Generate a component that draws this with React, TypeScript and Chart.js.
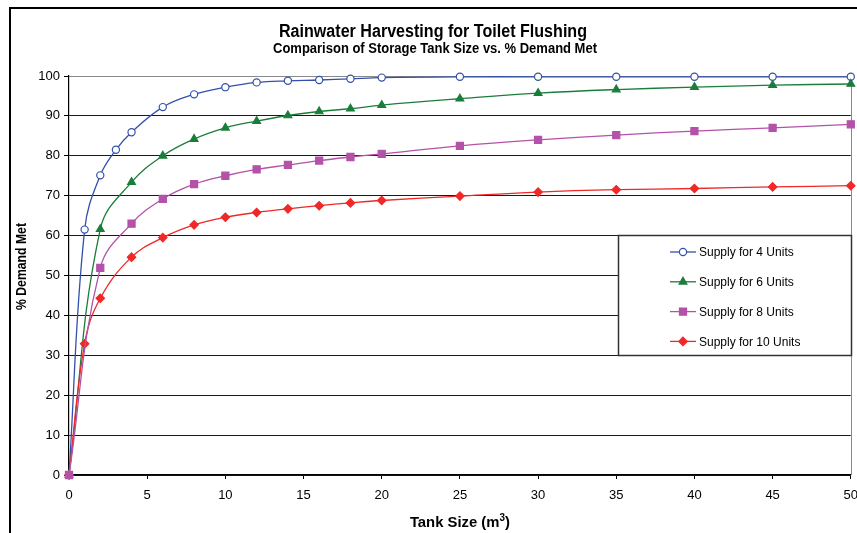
import React, { useEffect, useRef } from 'react';
import { Chart, registerables } from 'chart.js';

Chart.register(...registerables);

const FONT = "'Liberation Sans', Arial, Helvetica, sans-serif";

const TITLE = 'Rainwater Harvesting for Toilet Flushing';
const SUBTITLE = 'Comparison of Storage Tank Size vs. % Demand Met';
const X_TITLE_MAIN = 'Tank Size (m';
const X_TITLE_SUP = '3';
const X_TITLE_END = ')';
const Y_TITLE = '% Demand Met';

const X_TICK_STEP = 5;
const Y_TICK_STEP = 10;

const X_4_UNITS = [0, 1, 2, 3, 4, 6, 8, 10, 12, 14, 16, 18, 20, 25, 30, 35, 40, 45, 50];
const Y_4_UNITS = [0, 61.5, 75.1, 81.5, 85.9, 92.2, 95.4, 97.2, 98.4, 98.8, 99.0, 99.3, 99.6, 99.8, 99.8, 99.8, 99.8, 99.8, 99.8];

const X_6_UNITS = [0, 2, 4, 6, 8, 10, 12, 14, 16, 18, 20, 25, 30, 35, 40, 45, 50];
const Y_6_UNITS = [0, 61.6, 73.4, 80.0, 84.2, 87.0, 88.7, 90.1, 91.1, 91.8, 92.7, 94.3, 95.7, 96.6, 97.2, 97.7, 98.0];

const X_8_UNITS = [0, 2, 4, 6, 8, 10, 12, 14, 16, 18, 20, 25, 30, 35, 40, 45, 50];
const Y_8_UNITS = [0, 51.9, 63.0, 69.2, 72.9, 75.0, 76.6, 77.7, 78.8, 79.7, 80.5, 82.5, 84.0, 85.2, 86.2, 87.0, 87.9];

const X_10_UNITS = [0, 1, 2, 4, 6, 8, 10, 12, 14, 16, 18, 20, 25, 30, 35, 40, 45, 50];
const Y_10_UNITS = [0, 32.9, 44.3, 54.6, 59.5, 62.7, 64.6, 65.8, 66.7, 67.5, 68.2, 68.8, 69.9, 70.9, 71.5, 71.8, 72.2, 72.5];

const SERIES_NAMES = ['Supply for 4 Units', 'Supply for 6 Units', 'Supply for 8 Units', 'Supply for 10 Units'];
const SERIES_X = [X_4_UNITS, X_6_UNITS, X_8_UNITS, X_10_UNITS];
const SERIES_Y = [Y_4_UNITS, Y_6_UNITS, Y_8_UNITS, Y_10_UNITS];
const SERIES_COLORS = ['#3350aa', '#1b7d3b', '#b352a8', '#f02828'];
const SERIES_MARKERS = ['circle', 'triangle', 'rect', 'rectRot'];
const SERIES_MARKER_FILL = ['#ffffff', '#1b7d3b', '#b352a8', '#f02828'];
const SERIES_MARKER_SIZE = [3.6, 4.5, 5, 4.2];
const SERIES_ORDER = [3, 2, 0, 1];

function drawMarker(ctx: CanvasRenderingContext2D, style: string, x: number, y: number, r: number) {
  ctx.beginPath();
  if (style === 'circle') {
    ctx.arc(x, y, r, 0, Math.PI * 2);
  } else if (style === 'triangle') {
    const rad = -Math.PI / 2;
    ctx.moveTo(x + Math.cos(rad) * r, y + Math.sin(rad) * r);
    ctx.lineTo(x + Math.cos(rad + (2 * Math.PI) / 3) * r, y + Math.sin(rad + (2 * Math.PI) / 3) * r);
    ctx.lineTo(x + Math.cos(rad + (4 * Math.PI) / 3) * r, y + Math.sin(rad + (4 * Math.PI) / 3) * r);
    ctx.closePath();
  } else if (style === 'rect') {
    const s = Math.SQRT1_2 * r;
    ctx.rect(x - s, y - s, 2 * s, 2 * s);
  } else {
    ctx.moveTo(x - r, y);
    ctx.lineTo(x, y - r);
    ctx.lineTo(x + r, y);
    ctx.lineTo(x, y + r);
    ctx.closePath();
  }
  ctx.fill();
  ctx.stroke();
}

// draws centred text, condensed horizontally to a given width
function condensedText(
  ctx: CanvasRenderingContext2D,
  text: string,
  cx: number,
  baseline: number,
  font: string,
  width: number,
  rotate = false
) {
  ctx.save();
  ctx.font = font;
  const w = ctx.measureText(text).width;
  const k = Math.min(1, width / w);
  ctx.translate(cx, baseline);
  if (rotate) ctx.rotate(-Math.PI / 2);
  ctx.scale(k, 1);
  ctx.textAlign = 'center';
  ctx.textBaseline = 'alphabetic';
  ctx.fillStyle = '#000';
  ctx.fillText(text, 0, 0);
  ctx.restore();
}

const decorPlugin = {
  id: 'decor',
  beforeDatasetsDraw(chart: any) {
    const { ctx, chartArea } = chart;
    ctx.save();
    ctx.strokeStyle = '#8a8a8a';
    ctx.lineWidth = 1;
    ctx.beginPath();
    ctx.moveTo(Math.round(chartArea.right) + 0.5, chartArea.top);
    ctx.lineTo(Math.round(chartArea.right) + 0.5, chartArea.bottom);
    ctx.stroke();
    ctx.restore();
  },
  afterDraw(chart: any) {
    const { ctx, chartArea } = chart;
    ctx.save();
    // outer frame
    ctx.strokeStyle = '#000';
    ctx.lineWidth = 2;
    ctx.strokeRect(10, 8, 900, 600);

    // titles
    condensedText(ctx, TITLE, 433, 37, `bold 18px ${FONT}`, 308);
    condensedText(ctx, SUBTITLE, 435, 53, `bold 14px ${FONT}`, 324);

    // y axis title (rotated)
    ctx.save();
    ctx.translate(26, 266.5);
    ctx.rotate(-Math.PI / 2);
    ctx.font = `bold 14px ${FONT}`;
    const yw = ctx.measureText(Y_TITLE).width;
    ctx.scale(87 / yw, 1);
    ctx.fillStyle = '#000';
    ctx.textAlign = 'center';
    ctx.textBaseline = 'alphabetic';
    ctx.fillText(Y_TITLE, 0, 0);
    ctx.restore();

    // x axis title with superscript
    ctx.save();
    const mainFont = `bold 15px ${FONT}`;
    const supFont = `bold 10px ${FONT}`;
    ctx.font = mainFont;
    const w1 = ctx.measureText(X_TITLE_MAIN).width;
    const w3 = ctx.measureText(X_TITLE_END).width;
    ctx.font = supFont;
    const w2 = ctx.measureText(X_TITLE_SUP).width;
    const total = w1 + w2 + w3;
    const k = 100 / total;
    const cx = (chartArea.left + chartArea.right) / 2;
    ctx.translate(cx, 526.5);
    ctx.scale(k, 1);
    ctx.fillStyle = '#000';
    ctx.textAlign = 'left';
    ctx.textBaseline = 'alphabetic';
    let x = -total / 2;
    ctx.font = mainFont;
    ctx.fillText(X_TITLE_MAIN, x, 0);
    x += w1;
    ctx.font = supFont;
    ctx.fillText(X_TITLE_SUP, x, -6);
    x += w2;
    ctx.font = mainFont;
    ctx.fillText(X_TITLE_END, x, 0);
    ctx.restore();

    // legend
    const lx = 618.5, ly = 235.5, lw = 233, lh = 120;
    ctx.fillStyle = '#fff';
    ctx.fillRect(lx, ly, lw, lh);
    ctx.strokeStyle = '#333';
    ctx.lineWidth = 1.5;
    ctx.strokeRect(lx, ly, lw, lh);
    ctx.font = `12px ${FONT}`;
    ctx.textAlign = 'left';
    ctx.textBaseline = 'middle';
    chart.data.datasets.forEach((ds: any, i: number) => {
      const y = 252 + i * 29.8;
      ctx.strokeStyle = ds.borderColor;
      ctx.lineWidth = 1.3;
      ctx.beginPath();
      ctx.moveTo(670, y);
      ctx.lineTo(696, y);
      ctx.stroke();
      ctx.fillStyle = ds.pointBackgroundColor;
      ctx.strokeStyle = ds.pointBorderColor;
      ctx.lineWidth = 1.2;
      drawMarker(ctx, ds.pointStyle, 683, y, ds.pointRadius);
      ctx.fillStyle = '#000';
      ctx.fillText(ds.label, 699, y + 1);
    });
    ctx.restore();
  },
};

export default function App() {
  const canvasRef = useRef<HTMLCanvasElement | null>(null);

  useEffect(() => {
    const canvas = canvasRef.current;
    if (!canvas) return;
    const datasets = SERIES_NAMES.map((name, i) => ({
      label: name,
      data: SERIES_X[i].map((x, j) => ({ x, y: SERIES_Y[i][j] })),
      borderColor: SERIES_COLORS[i],
      backgroundColor: SERIES_COLORS[i],
      borderWidth: 1.3,
      pointStyle: SERIES_MARKERS[i],
      pointRadius: SERIES_MARKER_SIZE[i],
      pointBackgroundColor: SERIES_MARKER_FILL[i],
      pointBorderColor: SERIES_COLORS[i],
      pointBorderWidth: 1.2,
      tension: 0.4,
      order: SERIES_ORDER[i],
      fill: false,
      clip: 6,
    }));

    const chart = new Chart(canvas, {
      type: 'line',
      data: { datasets },
      plugins: [decorPlugin],
      options: {
        responsive: false,
        animation: false,
        devicePixelRatio: 1,
        layout: { padding: { top: 76, right: 4, bottom: 0, left: 0 } },
        plugins: {
          legend: { display: false },
          title: { display: false },
          tooltip: { enabled: false },
        },
        scales: {
          x: {
            type: 'linear',
            min: 0,
            max: 50,
            offset: false,
            afterFit(scale: any) {
              scale.height = 58;
              scale.paddingLeft = 0;
              scale.paddingRight = 0;
            },
            ticks: {
              stepSize: X_TICK_STEP,
              color: '#000',
              font: { family: FONT, size: 13 },
              padding: 9,
              maxRotation: 0,
              autoSkip: false,
            },
            grid: {
              drawOnChartArea: false,
              drawTicks: true,
              tickLength: 4,
              tickColor: '#000',
              color: '#000',
            },
            border: { display: true, color: '#000', width: 1.2 },
            title: { display: false },
          },
          y: {
            type: 'linear',
            min: 0,
            max: 100,
            afterFit(scale: any) {
              scale.width = 69;
              scale.paddingTop = 0;
              scale.paddingBottom = 0;
            },
            ticks: {
              stepSize: Y_TICK_STEP,
              color: '#000',
              font: { family: FONT, size: 13 },
              padding: 4,
            },
            grid: {
              drawTicks: true,
              tickLength: 5,
              tickColor: '#000',
              color: (c: any) => (c.tick && c.tick.value === 100 ? '#8a8a8a' : '#1a1a1a'),
              lineWidth: 1,
            },
            border: { display: true, color: '#000', width: 1.2 },
            title: { display: false },
          },
        },
      },
    } as any);
    return () => chart.destroy();
  }, []);

  return (
    <div style={{ position: 'fixed', left: 0, top: 0, width: 857, height: 533, background: '#fff' }}>
      <canvas ref={canvasRef} width={857} height={533} style={{ display: 'block', width: 857, height: 533 }} />
    </div>
  );
}
